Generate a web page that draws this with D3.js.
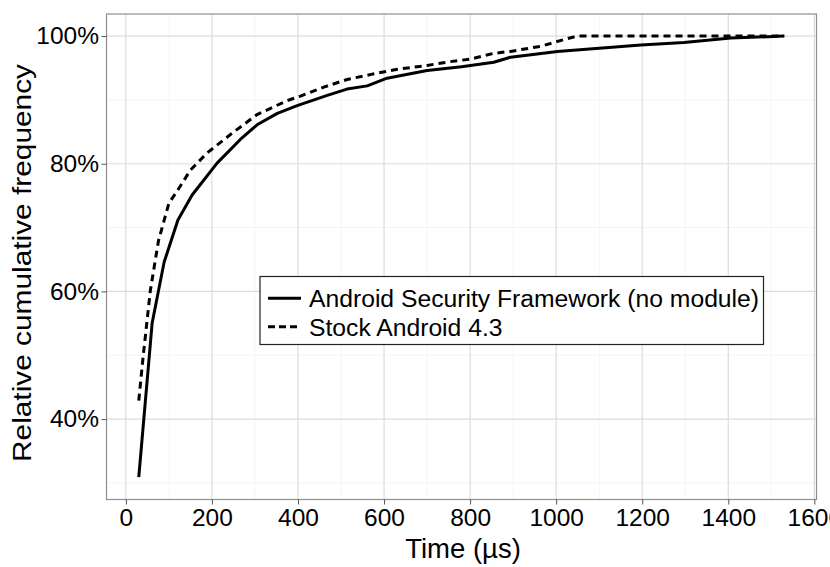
<!DOCTYPE html>
<html><head><meta charset="utf-8">
<script src="https://cdn.jsdelivr.net/npm/d3@7"></script>
<style>body{margin:0;background:#fff}svg{display:block;font-family:"Liberation Sans",Arial,sans-serif}</style>
</head><body><svg id="c" width="830" height="567"></svg>
<script>
const xTicks = [0,200,400,600,800,1000,1200,1400,1600];
const yTicks = [40,60,80,100];
const seriesNames = ["Android Security Framework (no module)","Stock Android 4.3"];
const asfX = [30,61,89,121,154,212,266,305,352,398,468,514,561,607,700,780,855,894,1003,1100,1197,1297,1406,1530];
const asfY = [30.9,55.0,64.6,71.2,75.1,80.1,83.8,86.1,87.9,89.1,90.7,91.7,92.2,93.4,94.6,95.2,95.9,96.7,97.6,98.1,98.6,99.0,99.7,100];
const stockX = [30,40,57,76,100,119,150,189,251,305,375,406,460,514,570,631,700,754,801,855,894,964,1026,1049,1530];
const stockY = [42.9,49.7,60.2,68.0,73.8,75.7,79.0,81.7,85.0,87.7,89.9,90.6,92.0,93.2,94.0,94.8,95.4,96.0,96.4,97.3,97.6,98.4,99.6,100,100];

const svg = d3.select("#c");
const L=106.5, R=816.5, T=14, B=499.5;
const x = d3.scaleLinear().domain([-45,1605]).range([L,R]);
const y = d3.scaleLinear().domain([27.4,103.46]).range([B,T]);

// grid
const xMinor = xTicks.slice(0,-1).map(v=>v+100);
const yMinor = [30,50,70,90];
const g = svg.append("g");
g.selectAll(".xm").data(xMinor).enter().append("line")
 .attr("x1",d=>x(d)).attr("x2",d=>x(d)).attr("y1",T).attr("y2",B).attr("stroke","#f5f5f5").attr("stroke-width",1);
g.selectAll(".ym").data(yMinor).enter().append("line")
 .attr("y1",d=>y(d)).attr("y2",d=>y(d)).attr("x1",L).attr("x2",R).attr("stroke","#f5f5f5").attr("stroke-width",1);
g.selectAll(".xg").data(xTicks).enter().append("line")
 .attr("x1",d=>x(d)).attr("x2",d=>x(d)).attr("y1",T).attr("y2",B).attr("stroke","#dcdcdc").attr("stroke-width",1.2);
g.selectAll(".yg").data(yTicks).enter().append("line")
 .attr("y1",d=>y(d)).attr("y2",d=>y(d)).attr("x1",L).attr("x2",R).attr("stroke","#dcdcdc").attr("stroke-width",1.2);

// lines
const line = d3.line().x(d=>x(d[0])).y(d=>y(d[1]));
svg.append("path").datum(asfX.map((v,i)=>[v,asfY[i]])).attr("d",line)
 .attr("fill","none").attr("stroke","#000").attr("stroke-width",3).attr("stroke-linejoin","round");
svg.append("path").datum(stockX.map((v,i)=>[v,stockY[i]])).attr("d",line)
 .attr("fill","none").attr("stroke","#000").attr("stroke-width",3).attr("stroke-dasharray","7,5");

// panel border
svg.append("rect").attr("x",L).attr("y",T).attr("width",R-L).attr("height",B-T)
 .attr("fill","none").attr("stroke","#8f8f8f").attr("stroke-width",1.2);

// axes
const xAxis = svg.append("g").attr("transform",`translate(0,${B})`)
 .call(d3.axisBottom(x).tickValues(xTicks).tickSize(5).tickSizeOuter(0).tickPadding(4.5).tickFormat(d3.format("d")));
xAxis.select(".domain").remove();
xAxis.selectAll("line").attr("stroke","#555");
xAxis.selectAll("text").attr("font-size",24.5).attr("fill","#000").attr("font-family","Liberation Sans, Arial, sans-serif");
const yAxis = svg.append("g").attr("transform",`translate(${L},0)`)
 .call(d3.axisLeft(y).tickValues(yTicks).tickSize(5).tickSizeOuter(0).tickPadding(2.5).tickFormat(d=>d+"%"));
yAxis.select(".domain").remove();
yAxis.selectAll("line").attr("stroke","#555");
yAxis.selectAll("text").attr("font-size",24.5).attr("fill","#000").attr("font-family","Liberation Sans, Arial, sans-serif");

// titles
svg.append("text").attr("x",463).attr("y",558).attr("text-anchor","middle")
 .attr("font-size",27.5).text("Time (µs)");
svg.append("text").attr("transform",`translate(30.5,263) rotate(-90)`).attr("text-anchor","middle")
 .attr("font-size",26.5).attr("textLength",398).attr("lengthAdjust","spacingAndGlyphs")
 .text("Relative cumulative frequency");

// legend
const lg = svg.append("g");
lg.append("rect").attr("x",260).attr("y",276.5).attr("width",503.5).attr("height",68)
 .attr("fill","#fff").attr("stroke","#222").attr("stroke-width",1.2);
const ky = [298.3,326.7];
const dashes = [null,"7,4"];
seriesNames.forEach((n,i)=>{
  lg.append("line").attr("x1",268).attr("x2",301).attr("y1",ky[i]).attr("y2",ky[i])
    .attr("stroke","#000").attr("stroke-width",3).attr("stroke-dasharray",dashes[i]);
  lg.append("text").attr("x",309).attr("y",ky[i]+9).attr("font-size",24.7).text(n);
});
</script></body></html>
